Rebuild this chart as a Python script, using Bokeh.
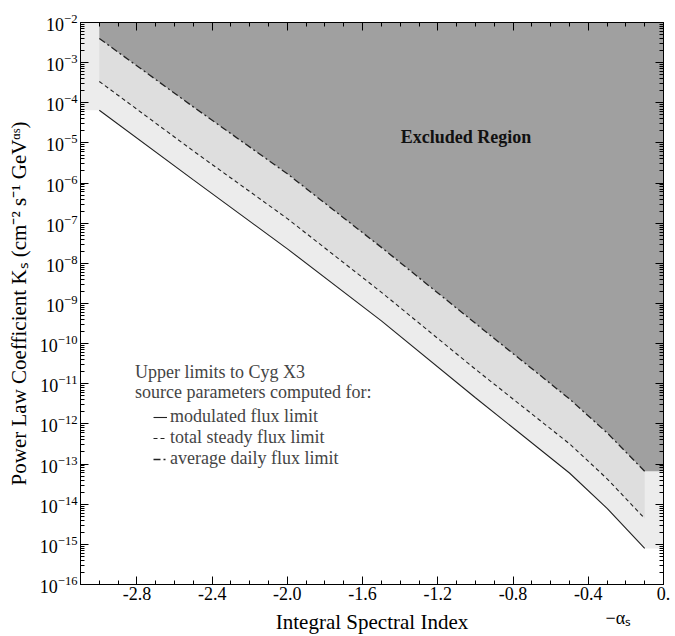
import numpy as np
from bokeh.plotting import figure
from bokeh.models import (LinearAxis, LogAxis, FixedTicker, Range1d, Label,
                          Legend, LegendItem, LogTickFormatter, CustomJSTickFormatter)
from bokeh.embed import file_html
from bokeh.resources import INLINE

# ---------------- data ----------------
alpha_pts = [-3.0, -2.5, -2.0, -1.5, -1.0, -0.5, -0.3, -0.1]
k_modulated = [6.5e-5, 1.2e-6, 2.3e-8, 3.7e-10, 4.5e-12, 6.0e-14, 7.9e-15, 7.9e-16]
k_steady = [3.4e-4, 6.3e-6, 1.3e-7, 1.9e-9, 2.3e-11, 3.2e-13, 4.3e-14, 4.4e-15]
k_daily = [4.0e-3, 7.9e-5, 1.7e-6, 2.5e-8, 3.2e-10, 4.2e-12, 6.0e-13, 6.6e-14]

series_labels = ["modulated flux limit", "total steady flux limit", "average daily flux limit"]

x_ticks = [-2.8, -2.4, -2.0, -1.6, -1.2, -0.8, -0.4, 0.0]
x_tick_labels = ["-2.8", "-2.4", "-2.0", "-1.6", "-1.2", "-0.8", "-0.4", "0."]
y_exponents = list(range(-16, -1))
x_lo, x_hi = -3.1, 0.0
y_lo, y_hi = 1e-16, 1e-2

FONT = "Liberation Serif"

p = figure(width=672, height=636,
           x_range=Range1d(x_lo, x_hi), y_range=Range1d(y_lo, y_hi),
           y_axis_type="log", output_backend="svg", toolbar_location=None,
           min_border_left=80, min_border_right=9, min_border_top=22,
           min_border_bottom=51)
p.xgrid.visible = False
p.ygrid.visible = False
p.outline_line_color = "black"
p.background_fill_color = "white"
p.border_fill_color = "white"

# ---------------- shaded regions ----------------
top = [y_hi] * (len(alpha_pts) + 2)
p.varea(x=[x_lo] + alpha_pts + [x_hi],
        y1=[k_modulated[0]] + k_modulated + [k_modulated[-1]],
        y2=top, fill_color="#ececec")
p.varea(x=alpha_pts, y1=k_steady, y2=k_daily, fill_color="#dedede")
p.varea(x=alpha_pts + [x_hi], y1=k_daily + [k_daily[-1]],
        y2=[y_hi] * (len(alpha_pts) + 1), fill_color="#a0a0a0")

# ---------------- lines ----------------
r_mod = p.line(alpha_pts, k_modulated, line_color="#222222", line_width=1.1)
r_std = p.line(alpha_pts, k_steady, line_color="#222222", line_width=1.1,
               line_dash="4 3")
r_day = p.line(alpha_pts, k_daily, line_color="#222222", line_width=1.3,
               line_dash="7 3 2 3")

# ---------------- axes ----------------
minor_x = [round(v, 1) for v in np.arange(-3.0, 0.0, 0.1)
           if round(v, 1) not in x_ticks]
y_major = [10.0 ** e for e in y_exponents]
y_minor = [m * 10.0 ** e for e in y_exponents[:-1] for m in range(2, 10)]


def style(ax, labels=True):
    ax.major_tick_in = 8
    ax.major_tick_out = 0
    ax.minor_tick_in = 4
    ax.minor_tick_out = 0
    ax.axis_line_color = "black"
    ax.major_tick_line_color = "black"
    ax.minor_tick_line_color = "black"
    ax.major_label_text_font = FONT
    ax.major_label_text_color = "black"
    ax.axis_label_text_font = FONT
    ax.axis_label_text_font_style = "normal"
    ax.axis_label_text_color = "black"
    if not labels:
        ax.formatter = CustomJSTickFormatter(code="return ''")
        ax.major_label_text_font_size = "1px"
        ax.major_label_standoff = 0


xb = p.xaxis[0]
xb.ticker = FixedTicker(ticks=x_ticks, minor_ticks=minor_x)
xb.major_label_overrides = dict(zip(x_ticks, x_tick_labels))
style(xb)
xb.major_label_text_font_size = "18px"
xb.major_label_standoff = 2
xb.axis_label = "Integral Spectral Index"
xb.axis_label_text_font_size = "21px"
xb.axis_label_standoff = 7

# spectral-index symbol under the axis end, drawn as a tick label of a
# line-less axis that adds no height
xs = LinearAxis(ticker=FixedTicker(ticks=[-0.24], minor_ticks=[]),
                formatter=CustomJSTickFormatter(code="return '\u2212\u03b1\u209b'"))
xs.axis_line_color = None
xs.major_tick_line_color = None
xs.minor_tick_line_color = None
xs.major_label_text_font = FONT
xs.major_label_text_font_size = "18px"
xs.major_label_text_color = "black"
xs.major_label_standoff = -35
p.add_layout(xs, "below")

yl = p.yaxis[0]
yl.ticker = FixedTicker(ticks=y_major, minor_ticks=y_minor)
yl.formatter = LogTickFormatter()
style(yl)
yl.major_label_text_font_size = "18px"
yl.major_label_standoff = 3
yl.axis_label = "Power Law Coefficient K\u209b (cm\u207b\u00b2 s\u207b\u00b9 GeV\u1d45\u02e2)"
yl.axis_label_text_font_size = "21px"
yl.axis_label_standoff = 6

xt = LinearAxis(ticker=FixedTicker(ticks=x_ticks, minor_ticks=minor_x))
style(xt, labels=False)
p.add_layout(xt, "above")

yr = LogAxis(ticker=FixedTicker(ticks=y_major, minor_ticks=y_minor))
style(yr, labels=False)
p.add_layout(yr, "right")

# ---------------- annotations ----------------
p.add_layout(Label(x=-1.05, y=10 ** -4.86, text="Excluded Region",
                   text_font=FONT, text_font_style="bold", text_font_size="18px",
                   text_align="center", text_baseline="middle", text_color="#111111"))
p.add_layout(Label(x=-2.81, y=10 ** -10.71, text="Upper limits to Cyg X3",
                   text_font=FONT, text_font_size="18px", text_baseline="middle"))
p.add_layout(Label(x=-2.81, y=10 ** -11.20, text="source parameters computed for:",
                   text_font=FONT, text_font_size="18px", text_baseline="middle"))

legend = Legend(items=[LegendItem(label=series_labels[0], renderers=[r_mod]),
                       LegendItem(label=series_labels[1], renderers=[r_std]),
                       LegendItem(label=series_labels[2], renderers=[r_day])],
                location=(73, 115), padding=0, margin=0, spacing=-1,
                label_height=20, glyph_height=20, glyph_width=14,
                label_standoff=3, label_text_font=FONT,
                label_text_font_size="18px",
                border_line_alpha=0, background_fill_alpha=0)
p.add_layout(legend)

open("out.html", "w").write(file_html(p, INLINE))
